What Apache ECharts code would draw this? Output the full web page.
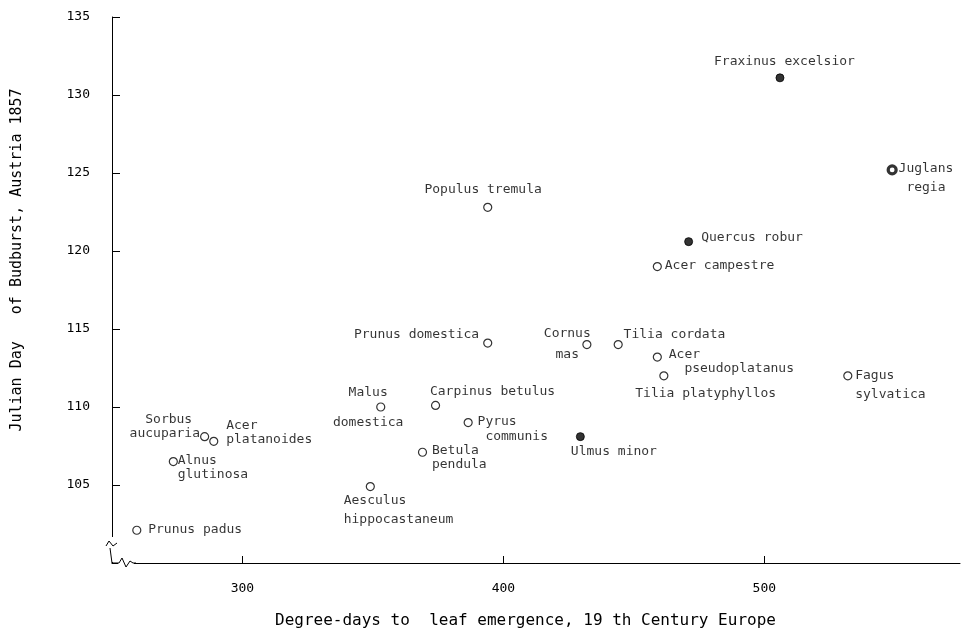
<!DOCTYPE html>
<html lang="en">
<head>
  <meta charset="UTF-8">
  <title>Budburst vs degree-days</title>
  <script src="https://cdn.jsdelivr.net/npm/echarts@6/dist/echarts.min.js"></script>
</head>
<body style="margin:0;background:#fff;">
  <div id="chart" style="width:972px;height:635px;"></div>

  <script>
    // species
    var species = ['Fraxinus excelsior', 'Juglans regia', 'Populus tremula', 'Quercus robur',
      'Acer campestre', 'Prunus domestica', 'Cornus mas', 'Tilia cordata', 'Acer pseudoplatanus',
      'Tilia platyphyllos', 'Fagus sylvatica', 'Malus domestica', 'Carpinus betulus', 'Pyrus communis',
      'Ulmus minor', 'Betula pendula', 'Aesculus hippocastaneum', 'Sorbus aucuparia',
      'Acer platanoides', 'Alnus glutinosa', 'Prunus padus'];
    // label text as printed (line breaks as in the figure)
    var labelText = ['Fraxinus excelsior', 'Juglans\n regia', 'Populus tremula', 'Quercus robur',
      'Acer campestre', 'Prunus domestica', 'Cornus\nmas', 'Tilia cordata', 'Acer\n  pseudoplatanus',
      'Tilia platyphyllos', 'Fagus\nsylvatica', 'Malus\n\ndomestica', 'Carpinus betulus', 'Pyrus\n communis',
      'Ulmus minor', 'Betula\npendula', 'Aesculus\nhippocastaneum', 'Sorbus \naucuparia',
      'Acer\nplatanoides', 'Alnus\nglutinosa', 'Prunus padus'];
    var degreeDays = [506, 549, 394, 471, 459, 394, 432, 444, 459, 461.5, 532, 353, 374, 386.5,
      429.5, 369, 349, 285.5, 289, 273.5, 259.5];
    var budburstDay = [131.1, 125.2, 122.8, 120.6, 119.0, 114.1, 114.0, 114.0, 113.2, 112.0, 112.0,
      110.0, 110.1, 109.0, 108.1, 107.1, 104.9, 108.1, 107.8, 106.5, 102.1];
    var markerKind = ['filled', 'half', 'open', 'filled', 'open', 'open', 'open', 'open', 'open',
      'open', 'open', 'open', 'open', 'open', 'filled', 'open', 'open', 'open', 'open', 'open', 'open'];

    var xTicks = [300, 400, 500];
    var yTicks = [105, 110, 115, 120, 125, 130, 135];

    // where each label sits relative to its marker: [dx, dy, align, lineHeight]
    var labelSpot = [
      [5, -16, 'center', 15], [8, 9.5, 'left', 19], [-4, -17, 'center', 15], [13, -4, 'left', 15],
      [8, 0, 'left', 15], [-8, -8, 'right', 15], [-19, 0, 'center', 21], [6, -9, 'left', 15],
      [12, 5, 'left', 14], [-28, 18, 'left', 15], [8, 9.5, 'left', 19], [-12, 1, 'center', 15],
      [-5, -13, 'left', 15], [10, 7.5, 'left', 15], [-9, 15, 'left', 15], [10, 6, 'left', 14],
      [-26, 24, 'left', 19], [-4, -9, 'right', 14], [13, -8, 'left', 14], [5, 7, 'left', 14],
      [12, 0, 'left', 15]
    ];

    var FONT = 'DejaVu Sans Mono';
    var INK = '#000';

    var points = species.map(function (name, i) {
      var kind = markerKind[i];
      var spot = labelSpot[i];
      return {
        name: name,
        value: [degreeDays[i], budburstDay[i]],
        itemStyle: kind === 'open'
          ? { color: '#fff', borderColor: INK, borderWidth: 1.2 }
          : kind === 'half'
            ? { color: '#fff', borderColor: INK, borderWidth: 3.2 }
            : { color: INK, borderColor: INK, borderWidth: 1 },
        label: {
          show: true,
          formatter: labelText[i],
          position: [4 + spot[0], 4 + spot[1]],
          align: spot[2],
          verticalAlign: 'middle',
          lineHeight: spot[3]
        }
      };
    });

    var myChart = echarts.init(document.getElementById('chart'));
    var options = {
      backgroundColor: '#fff',
      animation: false,
      grid: { left: 112, right: 12, top: 17, bottom: 72 },
      xAxis: {
        type: 'value',
        min: 250,
        max: 575,
        splitLine: { show: false },
        axisLine: { lineStyle: { color: INK, width: 1 } },
        axisTick: { inside: true, length: 7, customValues: xTicks, lineStyle: { color: INK } },
        axisLabel: { customValues: xTicks, margin: 19, color: INK, fontFamily: FONT, fontSize: 13 }
      },
      yAxis: {
        type: 'value',
        min: 100,
        max: 135,
        splitLine: { show: false },
        axisLine: { lineStyle: { color: INK, width: 1 } },
        axisTick: { inside: true, length: 8, customValues: yTicks, lineStyle: { color: INK } },
        axisLabel: { customValues: yTicks, margin: 22, color: INK, fontFamily: FONT, fontSize: 13 }
      },
      series: [{
        type: 'scatter',
        symbol: 'circle',
        symbolSize: 8,
        data: points,
        label: { color: INK, fontFamily: FONT, fontSize: 13 },
        emphasis: { disabled: true }
      }],
      graphic: [
        // axis titles
        {
          type: 'text', left: 533 - 258, top: 613, z: 100,
          style: { text: 'Degree-days to  leaf emergence, 19 th Century Europe',
            fill: INK, font: '16px "DejaVu Sans Mono"' }
        },
        {
          type: 'text', x: 17, y: 260, rotation: Math.PI / 2, z: 100,
          style: { text: 'Julian Day   of Budburst, Austria 1857', fill: INK,
            font: '15px "DejaVu Sans Mono"', align: 'center', verticalAlign: 'middle' }
        },
        // axis break at the corner
        { type: 'rect', z: 100, shape: { x: 108, y: 537, width: 8, height: 25 }, style: { fill: '#fff' } },
        { type: 'rect', z: 100, shape: { x: 118, y: 558, width: 16, height: 10 }, style: { fill: '#fff' } },
        {
          type: 'polyline', z: 101,
          shape: { points: [[106, 546], [109, 541], [113, 546], [117, 543]] },
          style: { stroke: INK, lineWidth: 1, fill: null }
        },
        {
          type: 'polyline', z: 101,
          shape: { points: [[110, 548], [112, 563], [119, 563], [122, 558], [126, 567], [130, 561], [133, 563], [136, 563]] },
          style: { stroke: INK, lineWidth: 1, fill: null }
        }
      ]
    };
    myChart.setOption(options);
  </script>
</body>
</html>
